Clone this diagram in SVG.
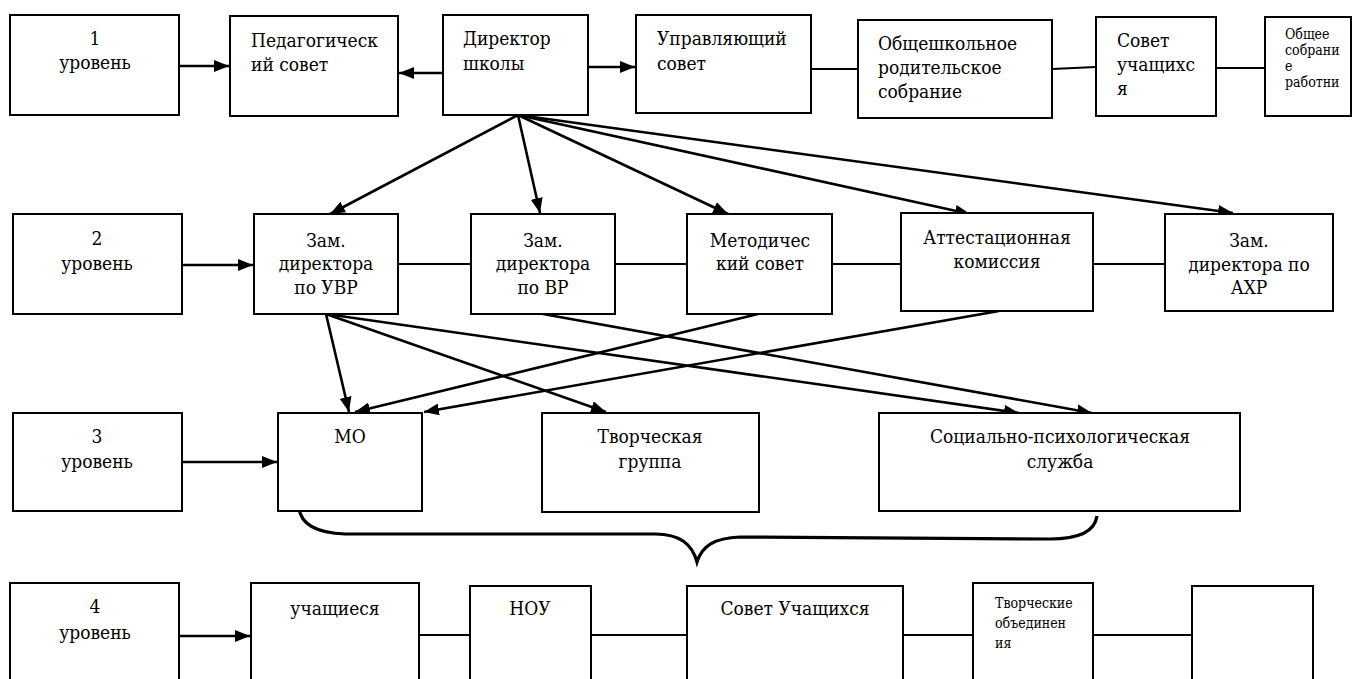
<svg xmlns="http://www.w3.org/2000/svg" width="1354" height="679" viewBox="0 0 1354 679">
<defs>
<marker id="ah" markerUnits="userSpaceOnUse" markerWidth="16" markerHeight="12" refX="15" refY="6" orient="auto">
<path d="M0,0 L15,6 L0,12 z" fill="#000"/>
</marker>
<style>
rect{fill:#fff;stroke:#000;stroke-width:2}
text{font-family:"DejaVu Serif Condensed","DejaVu Serif",serif;font-stretch:condensed;font-size:19px;fill:#000}
.c{text-anchor:middle}
.s{font-size:14px}
.ar{stroke:#000;stroke-width:2.6;fill:none;marker-end:url(#ah)}
.ln{stroke:#000;stroke-width:2;fill:none}
.br{stroke:#000;stroke-width:3.2;fill:none}
</style>
</defs>
<rect x="0" y="0" width="1354" height="679" style="fill:#fff;stroke:none"/>
<g id="connectors">
<line class="ar" x1="180" y1="66" x2="229" y2="66"/>
<line class="ar" x1="443" y1="73" x2="399" y2="73"/>
<line class="ar" x1="589" y1="67" x2="635" y2="67"/>
<line class="ln" x1="811" y1="69" x2="858" y2="69"/>
<line class="ln" x1="1052" y1="69" x2="1096" y2="67"/>
<line class="ln" x1="1216" y1="68" x2="1265" y2="68"/>
<line class="ar" x1="518" y1="115" x2="330" y2="214"/>
<line class="ar" x1="518" y1="115" x2="540" y2="213"/>
<line class="ar" x1="518" y1="115" x2="728" y2="214"/>
<line class="ar" x1="518" y1="115" x2="970" y2="214"/>
<line class="ar" x1="518" y1="115" x2="1233" y2="213"/>
<line class="ar" x1="183" y1="265" x2="253" y2="265"/>
<line class="ln" x1="398" y1="264" x2="471" y2="264"/>
<line class="ln" x1="615" y1="264" x2="687" y2="264"/>
<line class="ln" x1="832" y1="264" x2="901" y2="264"/>
<line class="ln" x1="1093" y1="264" x2="1165" y2="264"/>
<line class="ar" x1="326" y1="314" x2="349" y2="412"/>
<line class="ar" x1="326" y1="314" x2="606" y2="412"/>
<line class="ar" x1="326" y1="314" x2="1019" y2="413"/>
<line class="ar" x1="543" y1="314" x2="1092" y2="413"/>
<line class="ar" x1="758" y1="314" x2="355" y2="412"/>
<line class="ar" x1="999" y1="311" x2="424" y2="412"/>
<line class="ar" x1="183" y1="462" x2="277" y2="462"/>
<path class="br" d="M299,508 C301,526 320,533 345,534 L655,534 C680,534 692,544 697,562 C702,546 714,538 740,537 L1050,539 C1082,539 1095,530 1097,516"/>
<line class="ar" x1="180" y1="636" x2="250" y2="636"/>
<line class="ln" x1="419" y1="635" x2="470" y2="635"/>
<line class="ln" x1="591" y1="635" x2="687" y2="635"/>
<line class="ln" x1="903" y1="635" x2="973" y2="635"/>
<line class="ln" x1="1093" y1="635" x2="1192" y2="635"/>
</g>
<g id="n-level1"><rect x="10" y="15" width="169" height="100"/><text class="c" x="95" y="45">1</text><text class="c" x="95" y="69">уровень</text></g>
<g id="n-level2"><rect x="13" y="214" width="169" height="100"/><text class="c" x="97" y="245">2</text><text class="c" x="97" y="270">уровень</text></g>
<g id="n-level3"><rect x="13" y="413" width="169" height="98"/><text class="c" x="97" y="443">3</text><text class="c" x="97" y="468">уровень</text></g>
<g id="n-ped"><rect x="230" y="16" width="168" height="100"/><text x="251" y="47">Педагогическ</text><text x="251" y="71">ий совет</text></g>
<g id="n-dir"><rect x="443" y="15" width="145" height="100"/><text x="463" y="45">Директор</text><text x="463" y="70">школы</text></g>
<g id="n-upr"><rect x="636" y="15" width="175" height="98"/><text x="657" y="45">Управляющий</text><text x="657" y="70">совет</text></g>
<g id="n-obsh"><rect x="858" y="20" width="194" height="98"/><text x="878" y="50">Общешкольное</text><text x="878" y="74">родительское</text><text x="878" y="98">собрание</text></g>
<g id="n-sovet"><rect x="1096" y="17" width="120" height="99"/><text x="1117" y="47">Совет</text><text x="1117" y="71">учащихс</text><text x="1117" y="95">я</text></g>
<g id="n-obshee"><rect x="1265" y="17" width="86" height="99"/><text class="s" x="1285" y="39">Общее</text><text class="s" x="1285" y="55">собрани</text><text class="s" x="1285" y="71">е</text><text class="s" x="1285" y="87">работни</text></g>
<g id="n-uvr"><rect x="254" y="214" width="144" height="100"/><text class="c" x="326" y="247">Зам.</text><text class="c" x="326" y="270">директора</text><text class="c" x="326" y="294">по УВР</text></g>
<g id="n-vr"><rect x="471" y="214" width="144" height="100"/><text class="c" x="543" y="247">Зам.</text><text class="c" x="543" y="270">директора</text><text class="c" x="543" y="294">по ВР</text></g>
<g id="n-metod"><rect x="687" y="214" width="145" height="100"/><text class="c" x="760" y="247">Методичес</text><text class="c" x="760" y="270">кий совет</text></g>
<g id="n-attest"><rect x="901" y="213" width="192" height="98"/><text class="c" x="997" y="244">Аттестационная</text><text class="c" x="997" y="268">комиссия</text></g>
<g id="n-ahr"><rect x="1165" y="214" width="168" height="97"/><text class="c" x="1249" y="247">Зам.</text><text class="c" x="1249" y="271">директора по</text><text class="c" x="1249" y="294">АХР</text></g>
<g id="n-mo"><rect x="278" y="413" width="144" height="98"/><text class="c" x="350" y="443">МО</text></g>
<g id="n-tvor"><rect x="542" y="413" width="217" height="99"/><text class="c" x="650" y="443">Творческая</text><text class="c" x="650" y="468">группа</text></g>
<g id="n-social"><rect x="879" y="413" width="361" height="98"/><text class="c" x="1060" y="443">Социально-психологическая</text><text class="c" x="1060" y="468">служба</text></g>
<g id="n-level4"><rect x="10" y="583" width="169" height="110"/><text class="c" x="95" y="613">4</text><text class="c" x="95" y="639">уровень</text></g>
<g id="n-uch"><rect x="251" y="583" width="168" height="110"/><text class="c" x="335" y="615">учащиеся</text></g>
<g id="n-nou"><rect x="470" y="586" width="121" height="110"/><text class="c" x="530" y="615">НОУ</text></g>
<g id="n-sovuch"><rect x="687" y="586" width="216" height="110"/><text class="c" x="795" y="615">Совет Учащихся</text></g>
<g id="n-tvorob"><rect x="973" y="583" width="120" height="110"/><text class="s" x="995" y="608">Творческие</text><text class="s" x="995" y="628">объединен</text><text class="s" x="995" y="648">ия</text></g>
<g id="n-empty"><rect x="1192" y="586" width="121" height="110"/></g>
</svg>
